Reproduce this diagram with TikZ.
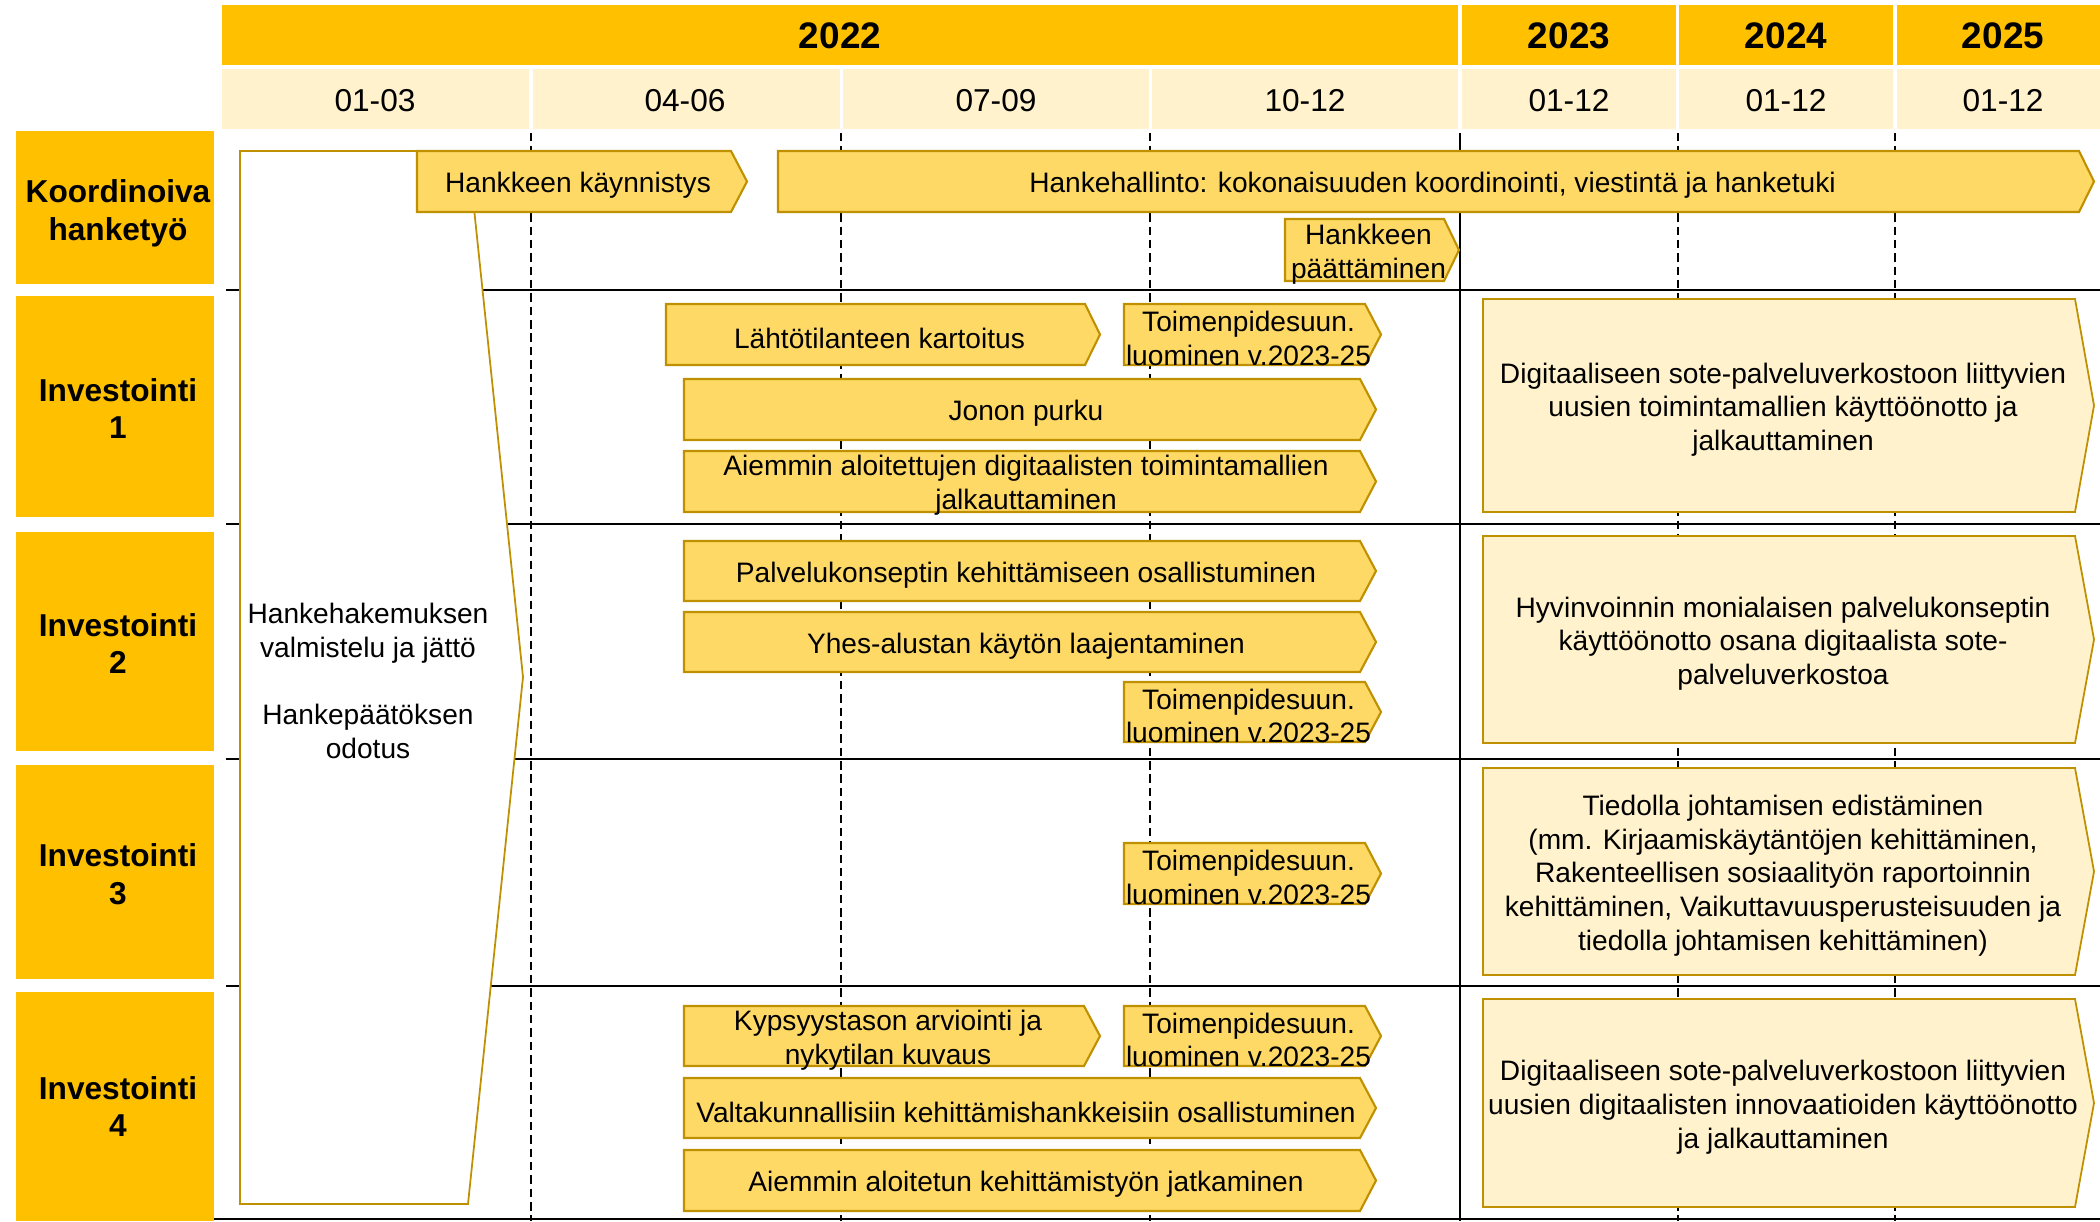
\documentclass[tikz,border=0pt]{standalone}
\usepackage{fontspec}
\setmainfont{Liberation Sans}
\usepackage{tikz}
\usetikzlibrary{positioning}

\definecolor{hdr}{HTML}{FFC000}
\definecolor{qtr}{HTML}{FFF2CC}
\definecolor{taskfill}{HTML}{FFD966}
\definecolor{taskline}{HTML}{BF9000}

\tikzset{
  task/.style={fill=taskfill, draw=taskline, line width=0.6pt},
  bigtask/.style={fill=qtr, draw=taskline, line width=0.5pt},
  tasktxt/.style={align=center, inner sep=0pt, font=\fontsize{8}{9.6}\selectfont},
  labtxt/.style={align=center, inner sep=0pt, font=\fontsize{9}{10.7}\selectfont\bfseries},
  rowline/.style={line width=0.8pt},
  grid/.style={line width=0.4pt, dash pattern=on 2.4pt off 1.4pt}
}

% style, name, left, top, body end, bottom, tip, text
\newcommand{\chev}[8]{%
  \draw[#1] (#3,#4) -- (#5,#4) -- (#7,{(#4+#6)/2}) -- (#5,#6) -- (#3,#6) -- cycle;
  \node[tasktxt] (#2) at ({(#3+#5)/2+4},{(#4+#6)/2+4}) {#8};}

\begin{document}
\begin{tikzpicture}[x=0.01cm, y=-0.01cm]
  \useasboundingbox (0,0) rectangle (2100,1221);
  % header
  \foreach \a/\b/\c/\t [count=\i] in {222/1458/840/2022, 1462/1676/1569/2023,
      1679/1893/1786/2024, 1897/2100/2003/2025}{
    \fill[hdr] (\a,5) rectangle (\b,65);
    \node[inner sep=0pt, font=\fontsize{10.5}{12}\selectfont\bfseries] (yr\i) at (\c,36) {\t};
  }
  \foreach \a/\b/\c/\t [count=\i] in {222/529/375/01-03, 533/840/685/04-06, 843/1149/996/07-09,
      1152/1458/1305/10-12, 1462/1676/1569/01-12, 1679/1893/1786/01-12, 1897/2100/2003/01-12}{
    \fill[qtr] (\a,69) rectangle (\b,129);
    \node[inner sep=0pt, font=\fontsize{9}{11}\selectfont] (q\i) at (\c,101) {\t};
  }
  % row labels
  \foreach \a/\b/\d/\t [count=\i] in {131/284/6/{Koordinoiva\\hanketyö}, 296/517/2/{Investointi\\1},
      532/751/2/{Investointi\\2}, 765/979/2/{Investointi\\3}, 992/1221/0/{Investointi\\4}}{
    \fill[hdr] (16,\a) rectangle (214,\b);
    \node[labtxt] (row\i) at (118,{(\a+\b)/2+\d}) {\t};
  }
  % grid
  \foreach \x in {531,841,1150,1678,1895}
    \draw[grid] (\x,133) -- (\x,1221);
  \draw[line width=0.7pt] (1460,133) -- (1460,1221);
  \foreach \y in {290,524,759,986}
    \draw[rowline] (226,\y) -- (2100,\y);
  \draw[rowline] (214,1219) -- (2100,1219);
  % application phase
  \draw[fill=white, draw=taskline, line width=0.5pt]
    (240,151) -- (468,151) -- (523,677) -- (468,1204) -- (240,1204) -- cycle;
  \node[tasktxt] (haku) at (368,681)
    {Hankehakemuksen\\valmistelu ja jättö\\[\baselineskip]Hankepäätöksen\\odotus};
  % Koordinoiva hanketyö
  \chev{task}{kaynn}{417}{151}{731}{212}{747}{Hankkeen käynnistys}
  \chev{task}{hallinto}{778}{151}{2079}{212}{2094}{Hankehallinto: kokonaisuuden koordinointi, viestintä ja hanketuki}
  \chev{task}{paatt}{1285}{219}{1444}{281}{1459}{Hankkeen\\päättäminen}
  % Investointi 1
  \chev{task}{kart}{666}{304}{1085}{365}{1100}{Lähtötilanteen kartoitus}
  \chev{task}{toimA}{1124}{304}{1365}{365}{1381}{Toimenpidesuun.\\luominen v.2023-25}
  \chev{task}{jono}{684}{379}{1360}{440}{1376}{Jonon purku}
  \chev{task}{aiemA}{684}{451}{1360}{512}{1376}{Aiemmin aloitettujen digitaalisten toimintamallien\\jalkauttaminen}
  \chev{bigtask}{isoA}{1483}{299}{2075}{512}{2094}{Digitaaliseen sote-palveluverkostoon liittyvien\\uusien toimintamallien käyttöönotto ja\\jalkauttaminen}
  % Investointi 2
  \chev{task}{palv}{684}{541}{1360}{601}{1376}{Palvelukonseptin kehittämiseen osallistuminen}
  \chev{task}{yhes}{684}{612}{1360}{672}{1376}{Yhes-alustan käytön laajentaminen}
  \chev{task}{toimB}{1124}{682}{1365}{742}{1381}{Toimenpidesuun.\\luominen v.2023-25}
  \chev{bigtask}{isoB}{1483}{536}{2075}{743}{2094}{Hyvinvoinnin monialaisen palvelukonseptin\\käyttöönotto osana digitaalista sote-\\palveluverkostoa}
  % Investointi 3
  \chev{task}{toimC}{1124}{843}{1365}{904}{1381}{Toimenpidesuun.\\luominen v.2023-25}
  \chev{bigtask}{isoC}{1483}{768}{2075}{975}{2094}{Tiedolla johtamisen edistäminen\\(mm. Kirjaamiskäytäntöjen kehittäminen,\\Rakenteellisen sosiaalityön raportoinnin\\kehittäminen, Vaikuttavuusperusteisuuden ja\\tiedolla johtamisen kehittäminen)}
  % Investointi 4
  \chev{task}{kyps}{684}{1006}{1084}{1066}{1100}{Kypsyystason arviointi ja\\nykytilan kuvaus}
  \chev{task}{toimD}{1124}{1006}{1365}{1066}{1381}{Toimenpidesuun.\\luominen v.2023-25}
  \chev{task}{valta}{684}{1078}{1360}{1138}{1376}{Valtakunnallisiin kehittämishankkeisiin osallistuminen}
  \chev{task}{jatk}{684}{1150}{1360}{1211}{1376}{Aiemmin aloitetun kehittämistyön jatkaminen}
  \chev{bigtask}{isoD}{1483}{999}{2075}{1207}{2094}{Digitaaliseen sote-palveluverkostoon liittyvien\\uusien digitaalisten innovaatioiden käyttöönotto\\ja jalkauttaminen}
\end{tikzpicture}
\end{document}
